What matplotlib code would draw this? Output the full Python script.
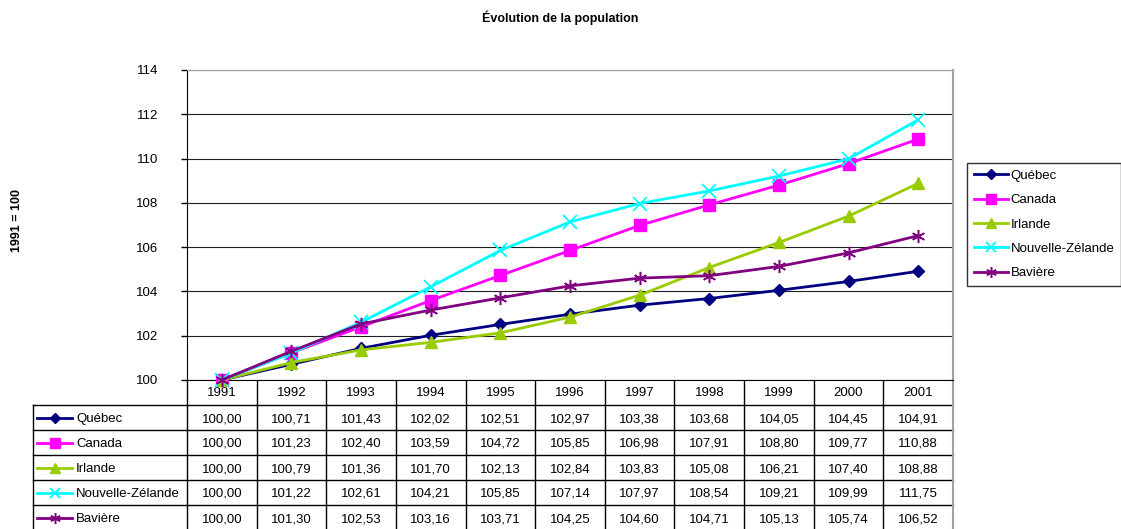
import matplotlib
matplotlib.use("Agg")
import matplotlib.pyplot as plt

plt.rcParams['font.family'] = ['Liberation Sans', 'DejaVu Sans']

years = ['1991', '1992', '1993', '1994', '1995', '1996', '1997', '1998', '1999', '2000', '2001']
series_names = ['Québec', 'Canada', 'Irlande', 'Nouvelle-Zélande', 'Bavière']
quebec = [100.00, 100.71, 101.43, 102.02, 102.51, 102.97, 103.38, 103.68, 104.05, 104.45, 104.91]
canada = [100.00, 101.23, 102.40, 103.59, 104.72, 105.85, 106.98, 107.91, 108.80, 109.77, 110.88]
irlande = [100.00, 100.79, 101.36, 101.70, 102.13, 102.84, 103.83, 105.08, 106.21, 107.40, 108.88]
nz = [100.00, 101.22, 102.61, 104.21, 105.85, 107.14, 107.97, 108.54, 109.21, 109.99, 111.75]
baviere = [100.00, 101.30, 102.53, 103.16, 103.71, 104.25, 104.60, 104.71, 105.13, 105.74, 106.52]
values = [quebec, canada, irlande, nz, baviere]

colors = ['#000080', '#FF00FF', '#99CC00', '#00FFFF', '#800080']
markers = ['D', 's', '^', 'x', (6, 2, 0)]
msizes = [6, 8.5, 9, 9.5, 9.5]
mews = [1, 1, 1, 1.3, 1.1]

W, H = 1121, 529
fig = plt.figure(figsize=(W / 100, H / 100), dpi=100)

L, R, T, B = 187, 953, 70, 380
ax = fig.add_axes([L / W, 1 - B / H, (R - L) / W, (B - T) / H])
x = list(range(len(years)))
for vals, c, m, ms, mew, name in zip(values, colors, markers, msizes, mews, series_names):
    ax.plot(x, vals, color=c, lw=2.0, marker=m, ms=ms, mew=mew,
            mec=c, mfc=c, label=name, clip_on=False, zorder=3)
ax.set_xlim(-0.5, len(years) - 0.5)
ax.set_ylim(100, 114)
ax.set_yticks(range(100, 115, 2))
ax.set_xticks([])
ax.tick_params(axis='y', length=4, width=1, pad=17, labelsize=9.5, direction='out')
ax.yaxis.grid(True, color='#202020', lw=0.8)
ax.set_axisbelow(True)
ax.spines['left'].set_color('black')
ax.spines['bottom'].set_color('black')
ax.spines['top'].set_color('#a0a0a0')
ax.spines['right'].set_color('#a0a0a0')
ax.spines['right'].set_linewidth(1.5)

fig.text(560 / W, 1 - 18 / H, 'Évolution de la population', ha='center', va='center',
         fontsize=9, fontweight='bold')
fig.text(17 / W, 1 - 220 / H, '1991 = 100', ha='center', va='center', rotation=90,
         fontsize=9, fontweight='bold')

# data table
ov = fig.add_axes([0, 0, 1, 1], zorder=-1)
ov.set_xlim(0, W)
ov.set_ylim(H, 0)
ov.axis('off')
ncol = len(years)
colw = (R - L) / ncol
rowh = 25
hdr_bottom = B + rowh
nrows = len(series_names)
bottom = hdr_bottom + nrows * rowh
TL = 33
ov.plot([TL, R], [hdr_bottom, hdr_bottom], color='black', lw=1)
for i in range(1, nrows + 1):
    y = hdr_bottom + i * rowh
    ov.plot([TL, R], [y, y], color='black', lw=1)
ov.plot([TL, TL], [hdr_bottom, bottom], color='black', lw=1)
for j in range(ncol):
    xx = L + j * colw
    ov.plot([xx, xx], [B, bottom], color='black', lw=1)
ov.plot([R, R], [B, bottom], color='#a0a0a0', lw=1.5)
for j, yr in enumerate(years):
    ov.text(L + (j + 0.5) * colw, B + rowh / 2 + 1, yr, ha='center', va='center', fontsize=9.5)
for i, (name, vals, c, m, ms, mew) in enumerate(zip(series_names, values, colors, markers, msizes, mews)):
    yc = hdr_bottom + (i + 0.5) * rowh
    ov.plot([37, 72], [yc, yc], color=c, lw=2.0)
    ov.plot([54.5], [yc], marker=m, color=c, ms=ms * 0.8, mew=mew, mec=c, mfc=c)
    ov.text(76, yc + 1.5, name, ha='left', va='center', fontsize=9.5)
    for j, v in enumerate(vals):
        ov.text(L + (j + 0.5) * colw, yc + 1.5, f'{v:.2f}'.replace('.', ','),
                ha='center', va='center', fontsize=9.5)

leg = fig.legend(loc='upper left', bbox_to_anchor=(967 / W, 1 - 163 / H), fontsize=9.5,
                 frameon=True, fancybox=False, edgecolor='black', handlelength=2.6,
                 handletextpad=0.2, labelspacing=0.92, borderpad=0.5, borderaxespad=0,
                 markerscale=0.8)
leg.get_frame().set_linewidth(1)

fig.savefig('out.png', dpi=100)
